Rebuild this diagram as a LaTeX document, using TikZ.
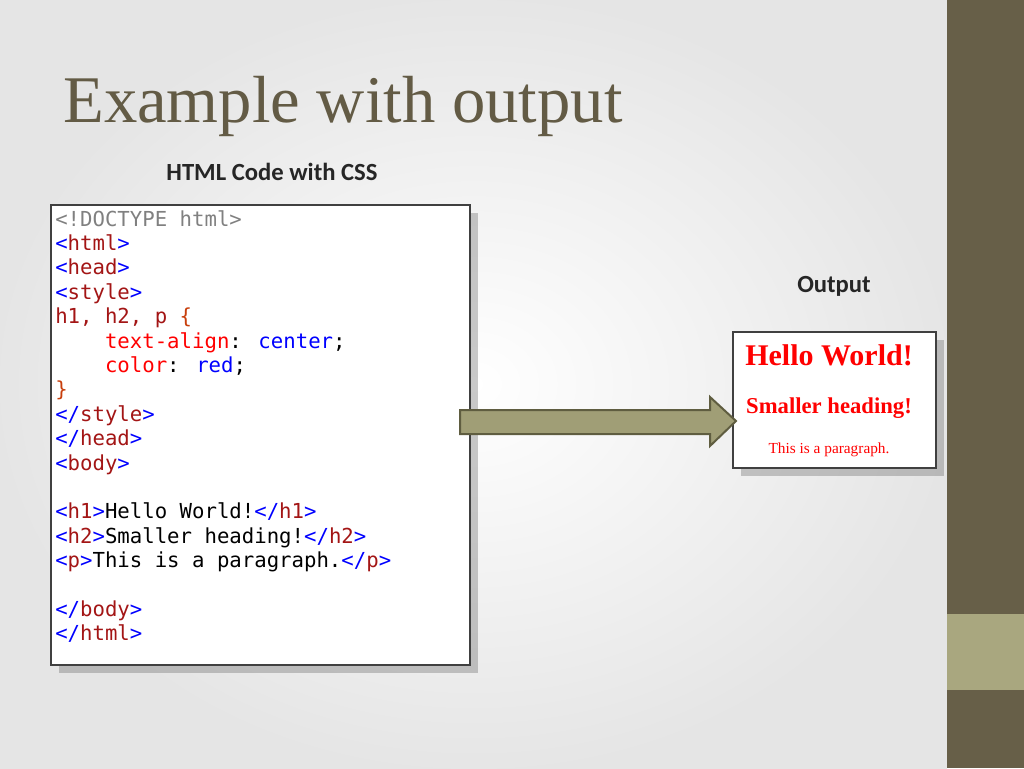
\documentclass[tikz,border=0pt]{standalone}
\usepackage{fontspec}
\setmainfont{Liberation Serif}
\newfontfamily\carl{Carlito}
\newfontfamily\cmono{DejaVu Sans Mono}
\usetikzlibrary{shadows}
\definecolor{titlec}{HTML}{635B45}
\definecolor{barc}{HTML}{675F48}
\definecolor{barl}{HTML}{A9A77F}
\definecolor{arrf}{HTML}{A09E76}
\definecolor{arrd}{HTML}{5F5D40}
\definecolor{tagb}{HTML}{0000FF}
\definecolor{tagr}{HTML}{A31515}
\definecolor{cssr}{HTML}{FF0000}
\newcommand{\tb}{\textcolor{tagb}}
\newcommand{\tr}{\textcolor{tagr}}
\tikzset{
  codeline/.style={anchor=base west,inner sep=0pt,font=\cmono\fontsize{15.5}{17}\selectfont},
  panel/.style={draw=black!75,line width=0.8pt,fill=white,drop shadow={shadow xshift=6pt,shadow yshift=-6pt,opacity=0.35,fill=black!60}},
  lab/.style={font=\carl\bfseries\fontsize{18.5}{22}\selectfont,text=black!85},
}
\begin{document}
\begin{tikzpicture}[x=0.75pt,y=-0.75pt]
\useasboundingbox (0,0) rectangle (1024,768);
\fill[white] (0,0) rectangle (947,768);
\shade[inner color=white,outer color=black!10] (0,0) rectangle (947,768);
\fill[barc] (947,0) rectangle (1024,768);
\fill[barl] (947,614) rectangle (1024,690);
\node[anchor=base west,inner sep=0pt,text=titlec,font=\fontsize{50}{56}\selectfont] (title) at (63,122) {Example with output};
\node[lab] (hl) at (272,172) {HTML Code with CSS};
\node[lab] (ol) at (834,286) {Output};
\draw[panel] (51,205) rectangle (470,665);
\foreach \i/\t in {
0/{\textcolor{gray}{<!DOCTYPE html>}},
1/{\tb{<}\tr{html}\tb{>}},
2/{\tb{<}\tr{head}\tb{>}},
3/{\tb{<}\tr{style}\tb{>}},
4/{\tr{h1, h2, p }\textcolor{tagr!60!orange}{\{}},
5/{\phantom{xxxx}\textcolor{cssr}{text-align}: \tb{center};},
6/{\phantom{xxxx}\textcolor{cssr}{color}: \tb{red};},
7/{\textcolor{tagr!60!orange}{\}}},
8/{\tb{</}\tr{style}\tb{>}},
9/{\tb{</}\tr{head}\tb{>}},
10/{\tb{<}\tr{body}\tb{>}},
12/{\tb{<}\tr{h1}\tb{>}Hello World!\tb{</}\tr{h1}\tb{>}},
13/{\tb{<}\tr{h2}\tb{>}Smaller heading!\tb{</}\tr{h2}\tb{>}},
14/{\tb{<}\tr{p}\tb{>}This is a paragraph.\tb{</}\tr{p}\tb{>}},
16/{\tb{</}\tr{body}\tb{>}},
17/{\tb{</}\tr{html}\tb{>}}}
  \node[codeline] (l\i) at (55,226+24.4*\i) {\t};
\draw[panel] (733,332) rectangle (936,468);
\node[text=red,font=\bfseries\fontsize{22.5}{24}\selectfont] (o1) at (829,355) {Hello World!};
\node[text=red,font=\bfseries\fontsize{17}{19}\selectfont] (o2) at (829,408) {Smaller heading!};
\node[text=red,font=\fontsize{11.5}{13}\selectfont] (o3) at (829,450) {This is a paragraph.};
\draw[fill=arrf,draw=arrd,line width=1.5pt,line join=miter]
  (460,410) -- (710,410) -- (710,397) -- (736,421) -- (710,446) -- (710,434) -- (460,434) -- cycle;
\end{tikzpicture}
\end{document}
